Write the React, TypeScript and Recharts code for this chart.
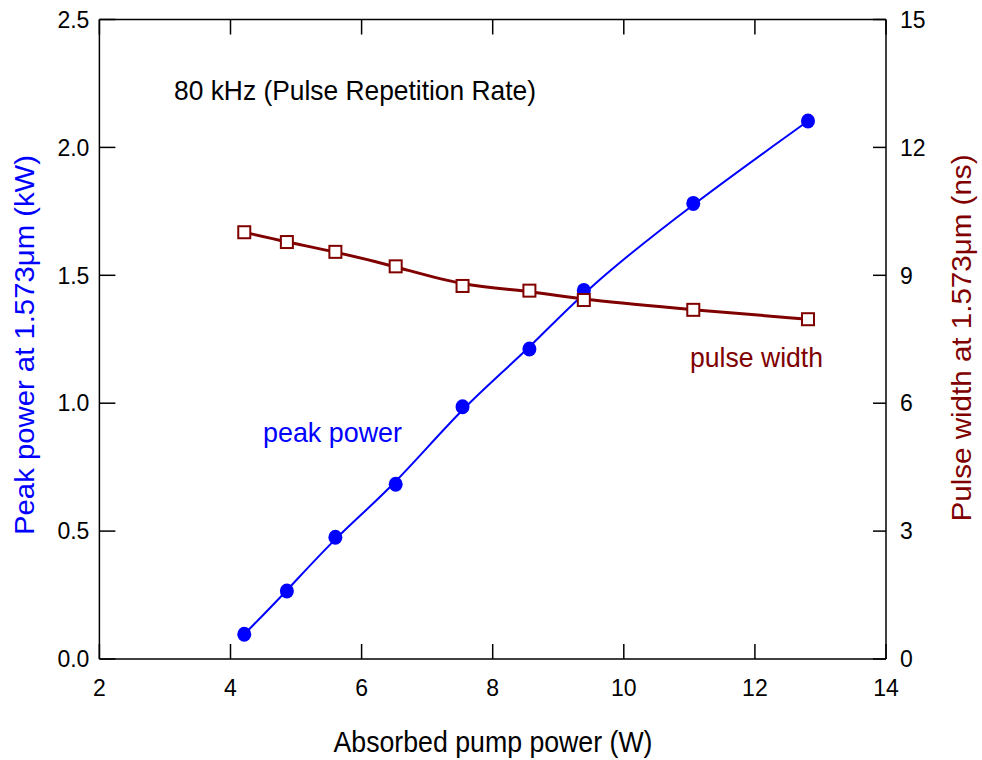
import { LineChart, Line, XAxis, YAxis } from 'recharts'

const pumpPower = [4.21, 4.86, 5.6, 6.52, 7.54, 8.56, 9.39, 11.06, 12.81]
const peakPower = [0.097, 0.266, 0.476, 0.683, 0.986, 1.212, 1.441, 1.781, 2.103]
const pulseWidth = [10.01, 9.78, 9.55, 9.21, 8.75, 8.64, 8.42, 8.19, 7.97]

const xTicks = [2, 4, 6, 8, 10, 12, 14]
const leftTicks = [0, 0.5, 1.0, 1.5, 2.0, 2.5]
const rightTicks = [0, 3, 6, 9, 12, 15]

const data = pumpPower.map((x, i) => ({ x, peak: peakPower[i], width: pulseWidth[i] }))

const BLUE = '#0000ff'
const RED = '#800000'
const FONT = 'Arial, "Liberation Sans", sans-serif'
const TICK_FONT = 23

const CircleDot = (props: any) => {
  const { cx, cy, index } = props
  if (cx == null || cy == null) return null
  return <ellipse key={'c' + index} cx={cx} cy={cy} rx={7} ry={7.5} fill={BLUE} stroke="none" />
}

const SquareDot = (props: any) => {
  const { cx, cy, index } = props
  if (cx == null || cy == null) return null
  const s = 12
  return (
    <rect
      key={'s' + index}
      x={cx - s / 2}
      y={cy - s / 2}
      width={s}
      height={s}
      fill="#fff"
      stroke={RED}
      strokeWidth={2}
    />
  )
}

// ticks point inward, so each tick mark is drawn together with its label
const renderBottomTick = ({ x, y, payload }: any) => (
  <g key={'b' + payload.value}>
    <line x1={x} x2={x} y1={y - 20} y2={y - 35} stroke="#000" strokeWidth={1.5} />
    <text x={x} y={y} dy="0.72em" textAnchor="middle" fontSize={TICK_FONT} fontFamily={FONT} fill="#000">
      {payload.value}
    </text>
  </g>
)

const renderTopTick = ({ x, y, payload }: any) => (
  <line key={'t' + payload.value} x1={x} x2={x} y1={y} y2={y + 15} stroke="#000" strokeWidth={1.5} />
)

const renderLeftTick = ({ x, y, payload }: any) => (
  <g key={'l' + payload.value}>
    <line x1={x + 10} x2={x + 26} y1={y} y2={y} stroke="#000" strokeWidth={1.5} />
    <text x={x} y={y} dy="0.36em" textAnchor="end" fontSize={TICK_FONT} fontFamily={FONT} fill="#000">
      {Number(payload.value).toFixed(1)}
    </text>
  </g>
)

const renderRightTick = ({ x, y, payload }: any) => (
  <g key={'r' + payload.value}>
    <line x1={x - 14} x2={x - 27} y1={y} y2={y} stroke="#000" strokeWidth={1.5} />
    <text x={x} y={y} dy="0.36em" textAnchor="start" fontSize={TICK_FONT} fontFamily={FONT} fill="#000">
      {payload.value}
    </text>
  </g>
)

export default function App() {
  return (
    <div style={{ position: 'absolute', left: 0, top: 0, width: 982, height: 760, background: '#fff' }}>
      <LineChart width={982} height={760} data={data} margin={{ top: 0, right: 0, bottom: 0, left: 0 }}>
        <XAxis
          xAxisId="bottom"
          dataKey="x"
          type="number"
          domain={[2, 14]}
          ticks={xTicks}
          height={101}
          stroke="#000"
          strokeWidth={1.5}
          tickLine={false}
          tickSize={0}
          tickMargin={20}
          tick={renderBottomTick}
          interval={0}
        />
        <XAxis
          xAxisId="top"
          orientation="top"
          dataKey="x"
          type="number"
          domain={[2, 14]}
          ticks={xTicks}
          height={19.5}
          stroke="#000"
          strokeWidth={1.5}
          tickLine={false}
          tickSize={0}
          tickMargin={0}
          tick={renderTopTick}
          interval={0}
        />
        <YAxis
          yAxisId="left"
          type="number"
          domain={[0, 2.5]}
          ticks={leftTicks}
          width={99.4}
          stroke="#000"
          strokeWidth={1.5}
          tickLine={false}
          tickSize={0}
          tickMargin={10}
          tick={renderLeftTick}
          interval={0}
        />
        <YAxis
          yAxisId="right"
          orientation="right"
          type="number"
          domain={[0, 15]}
          ticks={rightTicks}
          width={96}
          stroke="#000"
          strokeWidth={1.5}
          tickLine={false}
          tickSize={0}
          tickMargin={14}
          tick={renderRightTick}
          interval={0}
        />
        <Line
          xAxisId="bottom"
          yAxisId="left"
          type="basis"
          dataKey="peak"
          stroke={BLUE}
          strokeWidth={2}
          dot={CircleDot}
          activeDot={false}
          isAnimationActive={false}
        />
        <Line
          xAxisId="bottom"
          yAxisId="right"
          type="basis"
          dataKey="width"
          stroke={RED}
          strokeWidth={3}
          dot={SquareDot}
          activeDot={false}
          isAnimationActive={false}
        />
        <text x={174} y={100} fontSize={28} fontFamily={FONT} fill="#000" textLength={362} lengthAdjust="spacingAndGlyphs">
          80 kHz (Pulse Repetition Rate)
        </text>
        <text x={263} y={442} fontSize={28} fontFamily={FONT} fill={BLUE} textLength={139} lengthAdjust="spacingAndGlyphs">
          peak power
        </text>
        <text x={690} y={367} fontSize={28} fontFamily={FONT} fill={RED} textLength={133} lengthAdjust="spacingAndGlyphs">
          pulse width
        </text>
        <text x={493} y={752} fontSize={29} fontFamily={FONT} fill="#000" textAnchor="middle" textLength={319} lengthAdjust="spacingAndGlyphs">
          Absorbed pump power (W)
        </text>
        <text
          x={34}
          y={345}
          fontSize={28}
          fontFamily={FONT}
          fill={BLUE}
          textAnchor="middle"
          transform="rotate(-90 34 345)"
          textLength={380}
          lengthAdjust="spacingAndGlyphs"
        >
          Peak power at 1.573μm (kW)
        </text>
        <text
          x={971}
          y={338}
          fontSize={28}
          fontFamily={FONT}
          fill={RED}
          textAnchor="middle"
          transform="rotate(-90 971 338)"
          textLength={367}
          lengthAdjust="spacingAndGlyphs"
        >
          Pulse width at 1.573μm (ns)
        </text>
      </LineChart>
    </div>
  )
}
